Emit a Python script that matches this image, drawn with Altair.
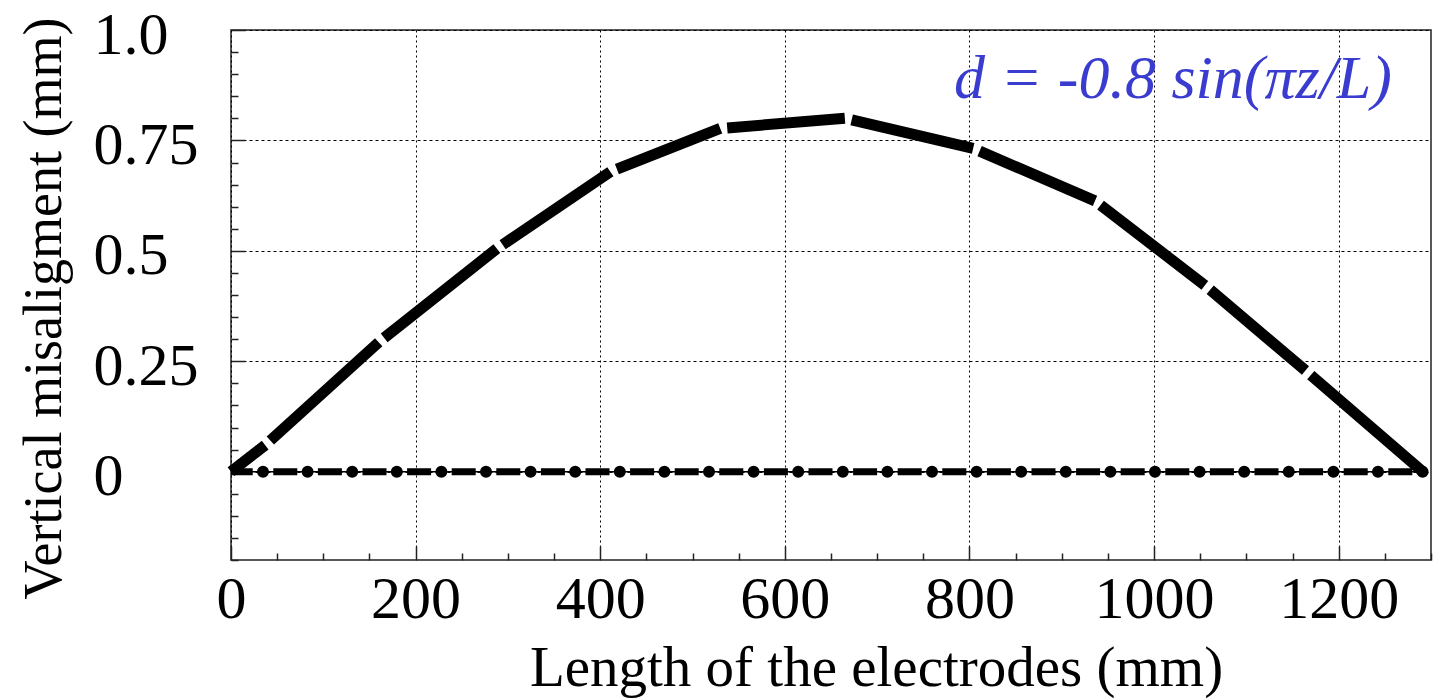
import altair as alt
import pandas as pd

# Sagged electrode profile: polyline vertices (position along electrode, mm -> misalignment, mm)
z_mm = [0, 37, 160, 288, 411, 530, 665, 804, 936, 1055, 1164, 1291]
d_mm = [0.0, 0.06, 0.293, 0.505, 0.679, 0.777, 0.800, 0.732, 0.613, 0.422, 0.229, 0.0]

# Nominal straight electrode
ref_z = [0, 1291]
ref_d = [0.0, 0.0]

x_ticks_major = [0, 200, 400, 600, 800, 1000, 1200]
x_tick_labels = ["0", "200", "400", "600", "800", "1000", "1200"]
x_ticks_minor = list(range(0, 1301, 50))

y_ticks_major = [0, 0.25, 0.5, 0.75, 1.0]
y_tick_labels = ["0", "0.25", "0.5", "0.75", "1.0"]
y_ticks_minor = [round(-0.2 + 0.05 * i, 2) for i in range(25)]

formula_text = "d = -0.8 sin(πz/L)"

W, H = 1200, 530
FONT = "Liberation Serif"

x_scale = alt.Scale(domain=[0, 1300], nice=False, zero=False)
y_scale = alt.Scale(domain=[-0.2, 1.0], nice=False, zero=False)


def label_expr(values, labels):
    vals = ",".join(repr(v) for v in values)
    labs = ",".join("'" + s + "'" for s in labels)
    return f"[{labs}][indexof([{vals}], datum.value)]"


# one line segment per pair of neighbouring vertices
rows = []
for i in range(len(z_mm) - 1):
    kind = "first" if i == 0 else "rest"
    rows.append({"seg": i, "kind": kind, "z": z_mm[i], "d": d_mm[i]})
    rows.append({"seg": i, "kind": kind, "z": z_mm[i + 1], "d": d_mm[i + 1]})
curve_df = pd.DataFrame(rows)
ref_df = pd.DataFrame({"z": ref_z, "d": ref_d})

x_label_axis = alt.Axis(
    orient="bottom", values=x_ticks_major,
    labelExpr=label_expr(x_ticks_major, x_tick_labels),
    labelFont=FONT, labelFontSize=60, labelColor="black", labelPadding=10,
    labelFlush=False, labelOverlap=False,
    ticks=False, tickSize=0, domain=False,
    grid=True, gridColor="black", gridDash=[2, 3], gridWidth=1,
    title="Length of the electrodes (mm)", titleFont=FONT, titleFontSize=57,
    titleFontWeight="normal", titleColor="black",
    titleX=645, titleY=125, titleBaseline="alphabetic",
)
y_label_axis = alt.Axis(
    orient="left", values=y_ticks_major,
    labelExpr=label_expr(y_ticks_major, y_tick_labels),
    labelFont=FONT, labelFontSize=60, labelColor="black",
    labelAlign="left", labelBaseline="middle", labelPadding=138, labelOffset=5,
    labelFlush=False, labelOverlap=False,
    ticks=False, tickSize=0, domain=False,
    grid=True, gridColor="black", gridDash=[3, 3], gridWidth=1,
    title="Vertical misaligment (mm)", titleFont=FONT, titleFontSize=54,
    titleFontWeight="normal", titleColor="black", titleAngle=270,
    titleX=-171, titleY=278, titleBaseline="alphabetic",
)
# inward-pointing ticks along the bottom and left frame, major ones longer
x_tick_axis = alt.Axis(
    orient="top", offset=-H, values=x_ticks_minor,
    labels=False, domain=False, grid=False, title=None,
    tickColor="#222", tickWidth=1.5,
    tickSize={"condition": {"test": "datum.value % 200 === 0", "value": 14}, "value": 7},
)
y_tick_axis = alt.Axis(
    orient="right", offset=-W, values=y_ticks_minor,
    labels=False, domain=False, grid=False, title=None,
    tickColor="#222", tickWidth=1.5,
    tickSize={"condition": {"test": "abs(datum.value * 4 - round(datum.value * 4)) < 1e-6",
                            "value": 14}, "value": 7},
)

curve = alt.Chart(curve_df).mark_line(color="black", strokeWidth=11, strokeCap="butt").encode(
    x=alt.X("z:Q", scale=x_scale, axis=x_label_axis),
    y=alt.Y("d:Q", scale=y_scale, axis=y_label_axis),
    detail="seg:N",
    strokeDash=alt.StrokeDash(
        "kind:N",
        scale=alt.Scale(domain=["first", "rest"], range=[[1, 0], [0, 7, 5000, 0]]),
        legend=None,
    ),
)

ref_thin = alt.Chart(ref_df).mark_line(color="black", strokeWidth=1.5).encode(
    x=alt.X("z:Q", scale=x_scale, axis=x_tick_axis),
    y=alt.Y("d:Q", scale=y_scale, axis=y_tick_axis),
)
ref_dash = alt.Chart(ref_df).mark_line(
    color="black", strokeWidth=7, strokeDash=[24, 20.6], strokeDashOffset=2.3, strokeCap="butt"
).encode(
    x=alt.X("z:Q", scale=x_scale, axis=None),
    y=alt.Y("d:Q", scale=y_scale, axis=None),
)
ref_dots = alt.Chart(ref_df).mark_line(
    color="black", strokeWidth=12, strokeDash=[0, 44.6], strokeDashOffset=12.6, strokeCap="round"
).encode(
    x=alt.X("z:Q", scale=x_scale, axis=None),
    y=alt.Y("d:Q", scale=y_scale, axis=None),
)

formula = alt.Chart(pd.DataFrame({"t": [formula_text]})).mark_text(
    font=FONT, fontStyle="italic", fontSize=62, color="#3a3ccf",
    align="right", baseline="alphabetic",
).encode(text="t:N", x=alt.value(1161), y=alt.value(68))

chart = alt.layer(ref_thin, ref_dash, ref_dots, curve, formula).resolve_axis(
    x="independent", y="independent"
).properties(
    width=W, height=H,
    autosize=alt.AutoSizeParams(type="none"),
    padding={"left": 231, "top": 30, "right": 6, "bottom": 140},
    background="white",
).configure_view(stroke="#222", strokeWidth=1.5)

chart.save("out.html", embed_options={"renderer": "svg", "actions": False})
